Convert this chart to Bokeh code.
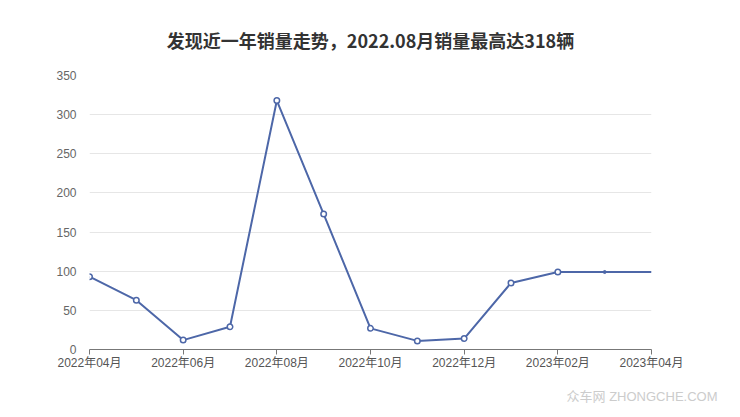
from bokeh.plotting import figure
from bokeh.models import FixedTicker, Range1d, Title
from bokeh.embed import file_html
from bokeh.resources import INLINE

months = ["2022年04月", "2022年05月", "2022年06月", "2022年07月", "2022年08月", "2022年09月",
          "2022年10月", "2022年11月", "2022年12月", "2023年01月", "2023年02月", "2023年03月", "2023年04月"]
sales = [93, 63, 12, 29, 318, 173, 27, 11, 14, 85, 99, 99, 99]
y_ticks = [0, 50, 100, 150, 200, 250, 300, 350]
title_text = "发现近一年销量走势，2022.08月销量最高达318辆"
watermark = "众车网 ZHONGCHE.COM"

FONT = "Liberation Sans, Noto Sans CJK SC, sans-serif"
BLUE = "#4d67a8"

x = list(range(len(months)))

p = figure(width=740, height=417, output_backend="svg", toolbar_location=None,
           x_range=Range1d(0, len(months) - 1), y_range=Range1d(0, 350),
           min_border_left=89, min_border_right=89, min_border_top=75, min_border_bottom=67)

p.title.text = title_text
p.title.align = "center"
p.title.vertical_align = "top"
p.title.text_font = "Noto Sans CJK SC"
p.title.text_font_size = "18px"
p.title.text_font_style = "bold"
p.title.text_color = "#333333"
p.title.standoff = 42

p.outline_line_color = None
p.background_fill_color = "white"
p.border_fill_color = "white"

p.xgrid.grid_line_color = None
p.ygrid.grid_line_color = "#e6e6e6"
p.ygrid.grid_line_width = 1

p.yaxis.ticker = FixedTicker(ticks=y_ticks)
p.yaxis.axis_line_color = None
p.yaxis.major_tick_line_color = None
p.yaxis.minor_tick_line_color = None
p.yaxis.major_label_text_color = "#666666"
p.yaxis.major_label_text_font = FONT
p.yaxis.major_label_text_font_size = "12px"
p.yaxis.major_label_standoff = 7

p.xaxis.ticker = FixedTicker(ticks=x[::2])
p.xaxis.major_label_overrides = {i: months[i] for i in x}
p.xaxis.axis_line_color = "#777777"
p.xaxis.major_tick_line_color = "#777777"
p.xaxis.major_tick_in = 0
p.xaxis.major_tick_out = 5
p.xaxis.minor_tick_line_color = None
p.xaxis.major_label_text_color = "#555555"
p.xaxis.major_label_text_font = FONT
p.xaxis.major_label_text_font_size = "12px"
p.xaxis.major_label_standoff = 1

p.line(x, sales, line_color=BLUE, line_width=2)
p.scatter(x[:11], sales[:11], size=5.5, marker="circle", fill_color="white",
          line_color=BLUE, line_width=1.5)
p.scatter(x[11:12], sales[11:12], size=3, marker="circle", fill_color=BLUE, line_color=BLUE)

wm = Title(text=watermark, align="right", offset=-66, standoff=28,
           text_font=FONT, text_font_size="13px", text_font_style="normal",
           text_color="#cccccc")
p.add_layout(wm, "below")

open("out.html", "w").write(file_html(p, INLINE))
